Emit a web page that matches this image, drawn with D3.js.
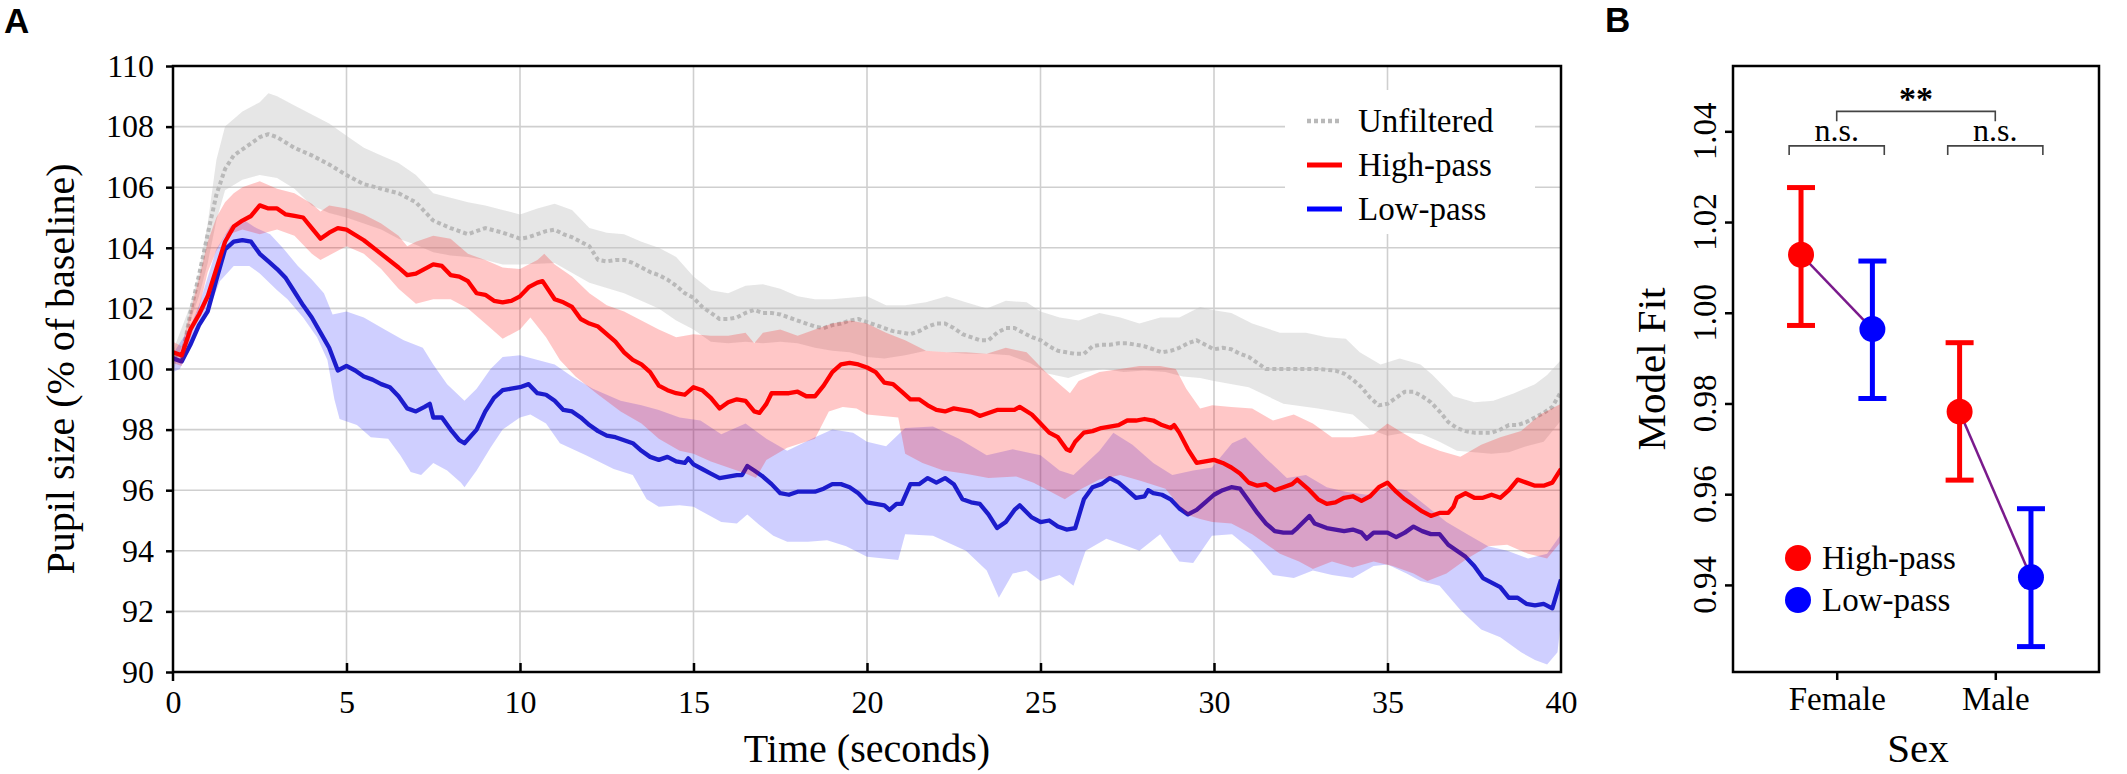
<!DOCTYPE html>
<html>
<head>
<meta charset="utf-8">
<script src="https://cdn.jsdelivr.net/npm/d3@7"></script>
<style>
  body { margin: 0; background: #fff; }
  svg text { font-family: "Liberation Serif", "Times New Roman", serif; fill: #000; }
  svg .panel-label { font-family: "Liberation Sans", Arial, sans-serif; font-weight: bold; }
</style>
</head>
<body>
<svg id="chart" width="2127" height="774"></svg>
<script>
// ---- panel A: pupil size over time, [seconds, % of baseline] ----
const timeTicks = [0, 5, 10, 15, 20, 25, 30, 35, 40];
const pupilTicks = [90, 92, 94, 96, 98, 100, 102, 104, 106, 108, 110];
const seriesNames = ['Unfiltered', 'High-pass', 'Low-pass'];

const unfilteredMean = [[0,100.4],[0.25,100.3],[0.5,101.85],[0.75,103.1],[1,104.45],[1.25,105.75],[1.5,106.6],[1.75,107.05],[2,107.25],[2.25,107.45],[2.5,107.65],[2.75,107.75],[3,107.65],[3.5,107.3],[4,107.05],[4.5,106.75],[5,106.4],[5.5,106.1],[6,105.95],[6.5,105.8],[7,105.5],[7.5,104.9],[8,104.65],[8.5,104.45],[9,104.65],[9.5,104.5],[10,104.3],[10.25,104.35],[10.5,104.45],[10.75,104.55],[11,104.6],[11.25,104.45],[11.5,104.35],[11.75,104.2],[12,104.05],[12.25,103.6],[12.5,103.55],[12.75,103.6],[13,103.6],[13.25,103.5],[13.5,103.35],[13.75,103.2],[14,103.1],[14.25,102.95],[14.5,102.75],[14.75,102.5],[15,102.35],[15.25,102.05],[15.5,101.85],[15.75,101.65],[16,101.65],[16.25,101.7],[16.5,101.85],[16.75,101.95],[17,101.85],[17.25,101.85],[17.5,101.8],[17.75,101.7],[18,101.6],[18.25,101.5],[18.5,101.4],[18.75,101.35],[19,101.45],[19.25,101.5],[19.5,101.6],[19.75,101.65],[20,101.55],[20.25,101.45],[20.5,101.35],[20.75,101.25],[21,101.2],[21.25,101.15],[21.5,101.25],[21.75,101.4],[22,101.5],[22.25,101.5],[22.5,101.35],[22.75,101.15],[23,101.05],[23.25,100.95],[23.5,100.95],[23.75,101.2],[24,101.35],[24.25,101.35],[24.5,101.2],[24.75,101.05],[25,100.95],[25.25,100.75],[25.5,100.6],[25.75,100.55],[26,100.5],[26.25,100.5],[26.5,100.75],[26.75,100.8],[27,100.8],[27.25,100.85],[27.5,100.85],[27.75,100.8],[28,100.75],[28.25,100.65],[28.5,100.55],[28.75,100.6],[29,100.7],[29.25,100.85],[29.5,100.95],[29.75,100.8],[30,100.65],[30.25,100.7],[30.5,100.65],[30.75,100.5],[31,100.4],[31.25,100.2],[31.5,100.0],[32,100.0],[32.5,100.0],[33,100.0],[33.5,99.95],[33.75,99.85],[34,99.65],[34.25,99.4],[34.5,99.05],[34.75,98.8],[35,98.85],[35.25,99.05],[35.5,99.25],[35.75,99.25],[36,99.1],[36.25,98.9],[36.5,98.6],[36.75,98.25],[37,98.05],[37.25,97.95],[37.5,97.9],[38,97.9],[38.25,98.0],[38.5,98.15],[38.75,98.15],[39,98.25],[39.25,98.4],[39.5,98.55],[39.75,98.75],[40,99.25]];
const unfilteredUpper = [[0,100.6],[0.5,102.1],[0.75,103.2],[1,104.8],[1.25,106.9],[1.5,108.0],[2,108.5],[2.5,108.8],[2.75,109.1],[3,109.0],[3.5,108.7],[4,108.4],[4.5,108.1],[5,107.7],[5.5,107.3],[6,107.05],[6.5,106.8],[7,106.4],[7.5,105.8],[8,105.65],[8.5,105.5],[9,105.4],[9.5,105.25],[10,105.1],[10.5,105.3],[11,105.45],[11.5,105.25],[12,104.65],[12.5,104.5],[13,104.45],[13.5,104.2],[14,104.0],[14.5,103.7],[15,103.05],[15.5,102.6],[16,102.5],[16.5,102.75],[17,102.8],[17.5,102.65],[18,102.4],[18.5,102.3],[19,102.3],[19.5,102.35],[20,102.4],[20.55,102.1],[21.1,102.1],[21.7,102.2],[22.3,102.4],[22.85,102.2],[23.45,102.0],[24,102.25],[24.6,102.2],[25,101.9],[25.55,101.7],[26.1,101.6],[26.7,101.85],[27.3,101.7],[27.85,101.5],[28.45,101.7],[29,101.7],[29.6,102.05],[29.95,101.95],[30.5,101.85],[31.1,101.5],[31.9,101.2],[32.65,101.2],[33.25,101.05],[33.8,101.0],[34.2,100.55],[34.8,100.15],[35.35,100.35],[35.95,100.15],[36.3,99.8],[36.9,99.1],[37.5,98.9],[38.05,98.95],[38.65,99.2],[39.25,99.5],[39.6,99.8],[40,100.3]];
const unfilteredLower = [[0,99.9],[0.5,101.6],[0.75,102.4],[1,103.5],[1.25,104.9],[1.5,105.9],[2,106.25],[2.5,106.4],[3,106.3],[3.5,105.95],[4,105.4],[4.5,105.15],[5,105.0],[5.5,104.8],[6,104.6],[6.5,104.3],[7,104.1],[7.5,103.85],[8,103.75],[8.5,103.7],[9,103.6],[9.5,103.45],[10,103.45],[11,103.5],[12,102.85],[13,102.5],[14,102.0],[14.5,101.6],[15,101.3],[15.5,100.9],[16,100.85],[16.5,100.9],[17,100.85],[17.5,100.9],[18,100.85],[18.5,100.7],[19,100.6],[19.5,100.55],[20,100.4],[20.5,100.35],[21.1,100.45],[21.7,100.6],[22.3,100.55],[22.9,100.5],[23.5,100.5],[24.1,100.45],[24.7,100.2],[25.2,99.85],[25.8,99.7],[26.3,99.9],[26.8,100.0],[27.4,99.9],[28,99.95],[28.6,99.9],[29.1,99.75],[29.6,99.7],[30,99.6],[31,99.4],[32,98.85],[33,98.7],[34,98.5],[34.5,98.0],[35,97.8],[35.5,97.9],[36,97.85],[36.5,97.6],[37,97.3],[37.5,97.25],[38,97.2],[38.5,97.25],[39,97.45],[39.5,97.6],[40,98.3]];

const highPassMean = [[0,100.55],[0.25,100.45],[0.5,101.3],[0.75,101.8],[1,102.4],[1.25,103.3],[1.5,104.2],[1.75,104.7],[2,104.9],[2.25,105.05],[2.5,105.4],[2.75,105.3],[3,105.3],[3.25,105.1],[3.5,105.05],[3.75,105.0],[4,104.65],[4.25,104.3],[4.5,104.5],[4.75,104.65],[5,104.6],[5.5,104.25],[6,103.8],[6.5,103.35],[6.75,103.1],[7,103.15],[7.5,103.45],[7.75,103.4],[8,103.1],[8.25,103.05],[8.5,102.9],[8.75,102.5],[9,102.45],[9.25,102.25],[9.5,102.2],[9.75,102.25],[10,102.4],[10.25,102.7],[10.5,102.85],[10.65,102.9],[11,102.3],[11.25,102.2],[11.5,102.05],[11.75,101.65],[12,101.5],[12.25,101.4],[12.5,101.15],[12.75,100.9],[13,100.55],[13.25,100.3],[13.5,100.15],[13.75,99.9],[14,99.45],[14.25,99.3],[14.5,99.2],[14.75,99.15],[15,99.4],[15.25,99.3],[15.5,99.05],[15.75,98.7],[16,98.9],[16.25,99.0],[16.5,98.95],[16.75,98.6],[16.9,98.55],[17.1,98.85],[17.25,99.2],[17.5,99.2],[17.75,99.2],[18,99.25],[18.25,99.1],[18.5,99.1],[18.75,99.45],[19,99.9],[19.25,100.15],[19.5,100.2],[19.75,100.15],[20,100.05],[20.25,99.9],[20.5,99.55],[20.75,99.5],[21,99.25],[21.25,99.0],[21.5,99.0],[21.75,98.8],[22,98.65],[22.25,98.6],[22.5,98.7],[22.75,98.65],[23,98.6],[23.25,98.45],[23.5,98.55],[23.75,98.65],[24,98.65],[24.25,98.65],[24.4,98.75],[24.75,98.5],[25,98.2],[25.25,97.9],[25.5,97.75],[25.75,97.35],[25.85,97.3],[26,97.6],[26.25,97.9],[26.5,97.95],[26.75,98.05],[27,98.1],[27.25,98.15],[27.5,98.3],[27.75,98.3],[28,98.35],[28.25,98.3],[28.5,98.15],[28.75,98.05],[28.85,98.15],[29,97.9],[29.25,97.35],[29.5,96.9],[29.75,96.95],[30,97.0],[30.25,96.9],[30.5,96.75],[30.75,96.55],[31,96.25],[31.25,96.15],[31.5,96.2],[31.75,96.0],[32,96.1],[32.25,96.2],[32.4,96.35],[32.75,96.0],[33,95.7],[33.25,95.55],[33.5,95.6],[33.75,95.75],[34,95.8],[34.25,95.65],[34.5,95.8],[34.75,96.1],[35,96.25],[35.25,95.95],[35.5,95.7],[35.75,95.5],[36,95.3],[36.25,95.15],[36.5,95.25],[36.75,95.25],[36.9,95.45],[37,95.75],[37.25,95.9],[37.5,95.75],[37.75,95.75],[38,95.85],[38.25,95.75],[38.5,96.0],[38.75,96.35],[39,96.25],[39.25,96.15],[39.5,96.15],[39.75,96.25],[40,96.7]];
const highPassUpper = [[0,100.9],[0.25,100.75],[0.5,101.9],[0.75,103.0],[1,104.2],[1.25,105.0],[1.5,105.5],[1.75,105.8],[2,106.0],[2.5,106.2],[3,105.95],[3.5,105.8],[4,105.45],[4.25,105.2],[4.5,105.4],[5,105.3],[5.5,105.1],[6,104.8],[6.5,104.4],[6.75,104.05],[7,104.2],[7.5,104.4],[8,104.3],[8.5,103.8],[9,103.6],[9.5,103.35],[10,103.3],[10.5,103.6],[10.7,103.8],[11,103.45],[11.5,103.05],[12,102.5],[12.5,102.1],[13,101.9],[13.5,101.6],[14,101.3],[14.5,101.05],[15,101.15],[15.5,101.1],[16,101.1],[16.5,101.2],[16.75,100.85],[17,101.2],[17.5,101.3],[18,101.1],[18.5,101.3],[19,101.5],[19.5,101.6],[20,101.5],[20.55,101.2],[21.1,100.95],[21.7,100.6],[22.3,100.55],[22.85,100.55],[23.45,100.5],[24,100.7],[24.6,100.55],[25.15,99.9],[25.55,99.5],[25.85,99.2],[26.1,99.6],[26.7,99.9],[27.3,100.0],[27.85,100.1],[28.45,100.1],[28.9,100.0],[29.2,99.35],[29.6,98.7],[29.95,98.8],[30.5,98.75],[31.1,98.7],[31.7,98.3],[32.3,98.5],[32.85,98.2],[33.4,97.75],[34,97.75],[34.6,97.85],[35,98.2],[35.35,97.95],[35.95,97.55],[36.5,97.3],[37.1,97.1],[37.7,97.5],[38.25,97.75],[38.85,97.95],[39.4,98.5],[40,98.85]];
const highPassLower = [[0,100.2],[0.25,100.1],[0.5,101.0],[0.75,102.0],[1,103.2],[1.25,103.9],[1.5,104.4],[2,104.6],[2.5,104.45],[3,104.6],[3.5,104.4],[4,103.8],[4.25,103.6],[4.75,103.9],[5,104.05],[5.5,103.8],[6,103.3],[6.5,102.65],[7,102.15],[7.5,102.3],[8,102.3],[8.5,102.0],[9,101.5],[9.5,101.0],[10,101.3],[10.3,101.7],[10.75,101.05],[11.15,100.3],[11.6,99.75],[12.2,99.2],[12.9,98.6],[13.5,98.2],[14,97.7],[14.6,97.3],[15,97.2],[15.5,96.95],[16,96.75],[16.5,96.55],[16.8,96.4],[17.1,97.0],[17.7,97.4],[18.5,97.7],[18.9,98.6],[19.3,98.75],[19.7,98.7],[20,98.5],[20.9,98.4],[21.1,97.2],[21.6,96.9],[22.2,96.65],[22.8,96.55],[23.5,96.4],[24.3,96.45],[24.8,96.25],[25.7,95.7],[26.1,96.0],[26.7,96.35],[27.3,96.5],[27.9,96.3],[28.6,96.05],[29.2,95.2],[29.6,95.05],[29.95,94.95],[30.5,94.9],[31.1,94.55],[31.9,93.9],[32.45,93.65],[32.85,93.4],[33.4,93.65],[34,93.45],[34.6,93.65],[35.15,93.5],[35.75,93.25],[36.15,93.0],[36.7,93.25],[37.3,93.75],[37.9,94.15],[38.45,94.2],[39.05,93.9],[39.6,93.75],[40,94.3]];

const lowPassMean = [[0,100.35],[0.25,100.25],[0.5,100.8],[0.75,101.45],[1,101.9],[1.25,102.95],[1.5,103.95],[1.75,104.2],[2,104.25],[2.25,104.2],[2.5,103.8],[2.75,103.55],[3,103.3],[3.25,103.0],[3.5,102.55],[3.75,102.1],[4,101.7],[4.25,101.2],[4.5,100.7],[4.75,99.95],[5,100.1],[5.25,99.95],[5.5,99.75],[5.75,99.65],[6,99.5],[6.25,99.4],[6.5,99.1],[6.75,98.7],[7,98.6],[7.25,98.75],[7.4,98.85],[7.5,98.4],[7.75,98.4],[8,98.0],[8.25,97.65],[8.4,97.55],[8.75,98.0],[9,98.6],[9.25,99.05],[9.5,99.3],[9.75,99.35],[10,99.4],[10.25,99.5],[10.5,99.2],[10.75,99.15],[11,98.95],[11.25,98.65],[11.5,98.6],[11.75,98.4],[12,98.15],[12.25,97.95],[12.5,97.8],[12.75,97.75],[13,97.65],[13.25,97.55],[13.5,97.3],[13.75,97.1],[14,97.0],[14.25,97.1],[14.5,96.95],[14.75,96.9],[14.85,97.05],[15,96.85],[15.25,96.7],[15.5,96.55],[15.75,96.4],[16,96.45],[16.25,96.5],[16.4,96.5],[16.55,96.8],[16.75,96.65],[17,96.45],[17.25,96.2],[17.5,95.9],[17.75,95.85],[18,95.95],[18.25,95.95],[18.5,95.95],[18.75,96.05],[19,96.2],[19.25,96.2],[19.5,96.1],[19.75,95.9],[20,95.6],[20.25,95.55],[20.5,95.5],[20.65,95.35],[20.85,95.55],[21,95.55],[21.25,96.2],[21.5,96.2],[21.75,96.4],[22,96.25],[22.25,96.4],[22.5,96.2],[22.75,95.7],[23,95.6],[23.25,95.55],[23.5,95.2],[23.75,94.75],[24,94.95],[24.25,95.35],[24.4,95.5],[24.75,95.1],[25,94.95],[25.25,95.0],[25.5,94.8],[25.75,94.7],[26,94.75],[26.25,95.7],[26.5,96.1],[26.75,96.2],[27,96.4],[27.25,96.25],[27.5,96.0],[27.75,95.75],[28,95.8],[28.1,96.0],[28.25,95.9],[28.5,95.85],[28.75,95.7],[29,95.4],[29.25,95.2],[29.5,95.35],[29.75,95.6],[30,95.85],[30.25,96.0],[30.5,96.1],[30.75,96.05],[31,95.65],[31.25,95.25],[31.5,94.9],[31.75,94.65],[32,94.6],[32.25,94.6],[32.4,94.75],[32.75,95.15],[32.9,94.9],[33.25,94.75],[33.5,94.7],[33.75,94.65],[34,94.7],[34.25,94.6],[34.4,94.4],[34.6,94.6],[35,94.6],[35.25,94.45],[35.5,94.6],[35.75,94.8],[36,94.65],[36.25,94.55],[36.5,94.55],[36.75,94.2],[37,94.0],[37.25,93.8],[37.5,93.5],[37.75,93.1],[38,92.95],[38.25,92.8],[38.5,92.45],[38.75,92.45],[39,92.25],[39.25,92.2],[39.5,92.25],[39.75,92.1],[40,93.05]];
const lowPassUpper = [[0,100.5],[0.5,101.4],[0.75,102.1],[1.25,103.95],[1.65,104.7],[2,104.95],[2.4,104.65],[2.8,104.45],[3.2,103.95],[3.6,103.4],[4,102.95],[4.35,102.5],[4.6,101.8],[5,101.9],[5.5,101.7],[6.1,101.3],[6.65,100.95],[7.2,100.7],[7.5,100.15],[7.9,99.5],[8.4,98.95],[8.75,99.35],[9.15,100.0],[9.5,100.4],[10,100.45],[11,100.15],[11.5,99.75],[12.1,99.35],[12.9,98.95],[13.5,98.8],[14,98.65],[14.6,98.4],[15.2,98.3],[15.8,97.85],[16.5,98.2],[17.1,97.7],[17.7,97.3],[18.5,97.75],[19,98.0],[19.6,97.9],[20,97.6],[20.55,97.45],[21.1,98.05],[21.9,98.1],[22.65,97.7],[23.45,97.15],[24.2,97.35],[25,97.15],[25.55,96.65],[25.95,96.5],[26.7,97.3],[27.1,97.9],[27.65,97.5],[28.25,96.9],[28.8,96.5],[29.4,96.65],[29.94,96.75],[30.52,97.55],[30.9,97.75],[31.5,97.05],[32.1,96.4],[32.65,96.5],[33.25,96.1],[33.8,95.95],[34.4,95.85],[35,96.1],[35.55,96.0],[36.15,95.45],[36.7,94.95],[37.3,94.55],[37.9,94.15],[38.45,94.0],[39.05,93.75],[39.6,93.9],[40,94.55]];
const lowPassLower = [[0,99.9],[0.2,100.0],[0.6,101.05],[1,101.85],[1.35,102.9],[1.75,103.4],[2.2,103.4],[2.5,103.15],[3,102.6],[3.3,102.3],[3.75,101.7],[4.15,101.05],[4.45,100.3],[4.65,99.0],[4.8,98.35],[5.3,98.15],[5.7,97.75],[6.2,97.7],[6.55,97.15],[6.85,96.6],[7.15,96.5],[7.5,96.9],[7.9,96.65],[8.3,96.25],[8.4,96.1],[8.75,96.65],[9.15,97.4],[9.5,98.0],[10,98.4],[10.3,98.5],[10.75,98.2],[11.15,97.55],[11.9,97.15],[12.7,96.7],[13.25,96.5],[13.65,95.7],[14,95.45],[14.6,95.5],[15,95.45],[15.8,94.95],[16.25,94.9],[16.55,95.2],[16.9,94.85],[17.3,94.5],[17.7,94.3],[18.3,94.3],[18.85,94.35],[19.4,94.15],[20,93.8],[20.9,93.7],[21.1,94.55],[21.9,94.5],[22.85,94.0],[23.45,93.35],[23.8,92.45],[24.2,93.25],[24.6,93.35],[25,93.0],[25.55,93.2],[25.95,92.85],[26.3,94.0],[26.9,94.4],[27.5,94.15],[27.85,94.0],[28.45,94.55],[29,93.65],[29.4,93.6],[29.94,94.5],[30.52,94.55],[31.1,94.0],[31.7,93.2],[32.3,93.1],[32.85,93.35],[33.4,93.2],[34,93.1],[34.6,93.5],[35,93.55],[35.55,93.25],[35.95,93.0],[36.5,92.85],[37.1,92.05],[37.7,91.4],[38.25,91.15],[38.85,90.65],[39.25,90.4],[39.6,90.25],[39.9,90.65],[40,91.7]];

// ---- panel B: model fit by sex ----
const sexes = ['Female', 'Male'];
const fitTicks = [0.94, 0.96, 0.98, 1.00, 1.02, 1.04];
const highPassFit = [1.0128, 0.9782];
const highPassFitLo = [0.9972, 0.9631];
const highPassFitHi = [1.0276, 0.9934];
const lowPassFit = [0.9964, 0.9417];
const lowPassFitLo = [0.9811, 0.9264];
const lowPassFitHi = [1.0114, 0.9568];
const sigLabels = ['n.s.', 'n.s.', '**'];

const svg = d3.select('#chart');

/* ------------------------- panel A ------------------------- */
const A = { left: 173, right: 1561, top: 66, bottom: 672 };
const x = d3.scaleLinear().domain([0, 40]).range([A.left, A.right]);
const y = d3.scaleLinear().domain([90, 110]).range([A.bottom, A.top]);

const gA = svg.append('g');

// grid
gA.append('g').selectAll('line')
  .data(timeTicks.slice(1, -1))
  .join('line')
  .attr('x1', d => x(d)).attr('x2', d => x(d))
  .attr('y1', A.top).attr('y2', A.bottom)
  .attr('stroke', '#cfcfcf').attr('stroke-width', 1.6);
gA.append('g').selectAll('line')
  .data(pupilTicks.slice(1, -1))
  .join('line')
  .attr('x1', A.left).attr('x2', A.right)
  .attr('y1', d => y(d)).attr('y2', d => y(d))
  .attr('stroke', '#cfcfcf').attr('stroke-width', 1.6);

const line = d3.line().x(d => x(d[0])).y(d => y(d[1]));
const bandPath = (upper, lower) => line(upper.concat(lower.slice().reverse())) + 'Z';

// drawn back to front: unfiltered, low-pass, high-pass
const layers = [
  { upper: unfilteredUpper, lower: unfilteredLower, mean: unfilteredMean,
    fill: '#c0c0c0', fillOpacity: 0.4, stroke: '#b9b9b9', width: 4, dash: '4,3' },
  { upper: lowPassUpper, lower: lowPassLower, mean: lowPassMean,
    fill: '#0000ff', fillOpacity: 0.19, stroke: '#1c1ccc', width: 4.3, dash: null },
  { upper: highPassUpper, lower: highPassLower, mean: highPassMean,
    fill: '#ff0000', fillOpacity: 0.22, stroke: '#ff0000', width: 4.3, dash: null }
];

svg.append('clipPath').attr('id', 'clipA')
  .append('rect').attr('x', A.left).attr('y', A.top)
  .attr('width', A.right - A.left).attr('height', A.bottom - A.top);

const plotA = gA.append('g').attr('clip-path', 'url(#clipA)');
layers.forEach(l => {
  plotA.append('path')
    .attr('d', bandPath(l.upper, l.lower))
    .attr('fill', l.fill).attr('fill-opacity', l.fillOpacity)
    .attr('stroke', 'none');
  plotA.append('path')
    .attr('d', line(l.mean))
    .attr('fill', 'none')
    .attr('stroke', l.stroke).attr('stroke-width', l.width)
    .attr('stroke-linejoin', 'round')
    .attr('stroke-dasharray', l.dash);
});

// axes
const yAxisA = gA.append('g')
  .attr('transform', `translate(${A.left},0)`)
  .call(d3.axisLeft(y).tickValues(pupilTicks).tickSize(7).tickPadding(12).tickSizeOuter(0));
const xAxisA = gA.append('g')
  .attr('transform', `translate(0,${A.bottom})`)
  .call(d3.axisBottom(x).tickValues(timeTicks).tickSize(-9).tickPadding(18).tickSizeOuter(0));
[yAxisA, xAxisA].forEach(g => {
  g.select('.domain').remove();
  g.attr('font-family', null).attr('font-size', 32);
  g.selectAll('line').attr('stroke', '#000').attr('stroke-width', 2.5);
});
xAxisA.selectAll('.tick').filter(d => d === 0 || d === 40).select('line').remove();

gA.append('rect')
  .attr('x', A.left).attr('y', A.top)
  .attr('width', A.right - A.left).attr('height', A.bottom - A.top)
  .attr('fill', 'none').attr('stroke', '#000').attr('stroke-width', 2.5);
gA.append('line')
  .attr('x1', A.left).attr('x2', A.left)
  .attr('y1', A.bottom).attr('y2', A.bottom + 9)
  .attr('stroke', '#000').attr('stroke-width', 2.5);

gA.append('text')
  .attr('x', (A.left + A.right) / 2).attr('y', 762)
  .attr('text-anchor', 'middle').attr('font-size', 40)
  .text('Time (seconds)');
gA.append('text')
  .attr('transform', `translate(74,${(A.top + A.bottom) / 2}) rotate(-90)`)
  .attr('text-anchor', 'middle').attr('font-size', 40)
  .text('Pupil size (% of baseline)');

// legend
const legA = gA.append('g');
legA.append('rect')
  .attr('x', 1285).attr('y', 90).attr('width', 250).attr('height', 144)
  .attr('fill', '#fff');
const legStyles = [layers[0], layers[2], { stroke: '#0000ff', width: 5, dash: null }];
seriesNames.forEach((name, i) => {
  const cy = 121 + i * 44;
  const st = legStyles[i];
  legA.append('line')
    .attr('x1', 1307).attr('x2', 1342).attr('y1', cy).attr('y2', cy)
    .attr('stroke', st.stroke).attr('stroke-width', i === 0 ? 4.5 : 5)
    .attr('stroke-dasharray', st.dash);
  legA.append('text')
    .attr('x', 1358).attr('y', cy + 11)
    .attr('font-size', 33)
    .text(name);
});

svg.append('text').attr('class', 'panel-label')
  .attr('x', 4).attr('y', 33).attr('font-size', 35).text('A');

/* ------------------------- panel B ------------------------- */
const B = { left: 1733, right: 2099, top: 66, bottom: 672 };
const xb = d3.scaleLinear().domain([-0.654, 1.654]).range([B.left, B.right]);
const yb = d3.scaleLinear().domain([0.9208, 1.0544]).range([B.bottom, B.top]);
const gB = svg.append('g');

const yAxisB = gB.append('g')
  .attr('transform', `translate(${B.left},0)`)
  .call(d3.axisLeft(yb).tickValues(fitTicks).tickSize(8).tickFormat('').tickSizeOuter(0));
const xAxisB = gB.append('g')
  .attr('transform', `translate(0,${B.bottom})`)
  .call(d3.axisBottom(xb).tickValues([0, 1]).tickFormat(i => sexes[i])
    .tickSize(8).tickPadding(7).tickSizeOuter(0));
[yAxisB, xAxisB].forEach(g => {
  g.select('.domain').remove();
  g.attr('font-family', null).attr('font-size', 33);
  g.selectAll('line').attr('stroke', '#000').attr('stroke-width', 2.5);
});
gB.append('g').selectAll('text')
  .data(fitTicks)
  .join('text')
  .attr('transform', d => `translate(1716,${yb(d)}) rotate(-90)`)
  .attr('text-anchor', 'middle').attr('font-size', 33)
  .text(d => d3.format('.2f')(d));

gB.append('rect')
  .attr('x', B.left).attr('y', B.top)
  .attr('width', B.right - B.left).attr('height', B.bottom - B.top)
  .attr('fill', 'none').attr('stroke', '#000').attr('stroke-width', 2.5);

// significance brackets
const brackets = [
  { a: -0.3, b: 0.3, y: 1.0368, leg: 1.0348 },
  { a: 0.7, b: 1.3, y: 1.0368, leg: 1.0348 },
  { a: 0, b: 1, y: 1.0444, leg: 1.0422 }
];
brackets.forEach((br, i) => {
  gB.append('path')
    .attr('d', `M${xb(br.a)},${yb(br.leg)}V${yb(br.y)}H${xb(br.b)}V${yb(br.leg)}`)
    .attr('fill', 'none').attr('stroke', '#444').attr('stroke-width', 1.6);
  gB.append('text')
    .attr('x', xb((br.a + br.b) / 2))
    .attr('y', i < 2 ? yb(br.y) - 4.5 : yb(br.y) - 1)
    .attr('text-anchor', 'middle')
    .attr('font-size', i < 2 ? 32 : 34)
    .attr('font-weight', i < 2 ? null : 'bold')
    .text(sigLabels[i]);
});

// points, error bars and connecting lines
const groups = [
  { mean: highPassFit, lo: highPassFitLo, hi: highPassFitHi, off: -0.225, color: '#ff0000' },
  { mean: lowPassFit, lo: lowPassFitLo, hi: lowPassFitHi, off: 0.225, color: '#0000ff' }
];
sexes.forEach((s, i) => {
  gB.append('line')
    .attr('x1', xb(i + groups[0].off)).attr('y1', yb(groups[0].mean[i]))
    .attr('x2', xb(i + groups[1].off)).attr('y2', yb(groups[1].mean[i]))
    .attr('stroke', '#7a1a8c').attr('stroke-width', 2.5);
});
groups.forEach(g => {
  const gg = gB.append('g').attr('stroke', g.color).attr('stroke-width', 5);
  sexes.forEach((s, i) => {
    const cx = xb(i + g.off);
    gg.append('line').attr('x1', cx).attr('x2', cx)
      .attr('y1', yb(g.lo[i])).attr('y2', yb(g.hi[i]));
    [g.lo[i], g.hi[i]].forEach(v => {
      gg.append('line').attr('x1', cx - 14).attr('x2', cx + 14)
        .attr('y1', yb(v)).attr('y2', yb(v));
    });
  });
  gB.append('g').selectAll('circle')
    .data(sexes)
    .join('circle')
    .attr('cx', (d, i) => xb(i + g.off))
    .attr('cy', (d, i) => yb(g.mean[i]))
    .attr('r', 13)
    .attr('fill', g.color);
});

// legend
[{ name: 'High-pass', color: '#ff0000' }, { name: 'Low-pass', color: '#0000ff' }].forEach((d, i) => {
  const cy = 558 + i * 42;
  gB.append('circle').attr('cx', 1798).attr('cy', cy).attr('r', 13).attr('fill', d.color);
  gB.append('text').attr('x', 1822).attr('y', cy + 10.5)
    .attr('font-size', 33).text(d.name);
});

gB.append('text')
  .attr('x', (B.left + B.right) / 2 + 2).attr('y', 762)
  .attr('text-anchor', 'middle').attr('font-size', 41)
  .text('Sex');
gB.append('text')
  .attr('transform', `translate(1665,${(B.top + B.bottom) / 2}) rotate(-90)`)
  .attr('text-anchor', 'middle').attr('font-size', 41)
  .text('Model Fit');

svg.append('text').attr('class', 'panel-label')
  .attr('x', 1605).attr('y', 32).attr('font-size', 35).text('B');
</script>
</body>
</html>
